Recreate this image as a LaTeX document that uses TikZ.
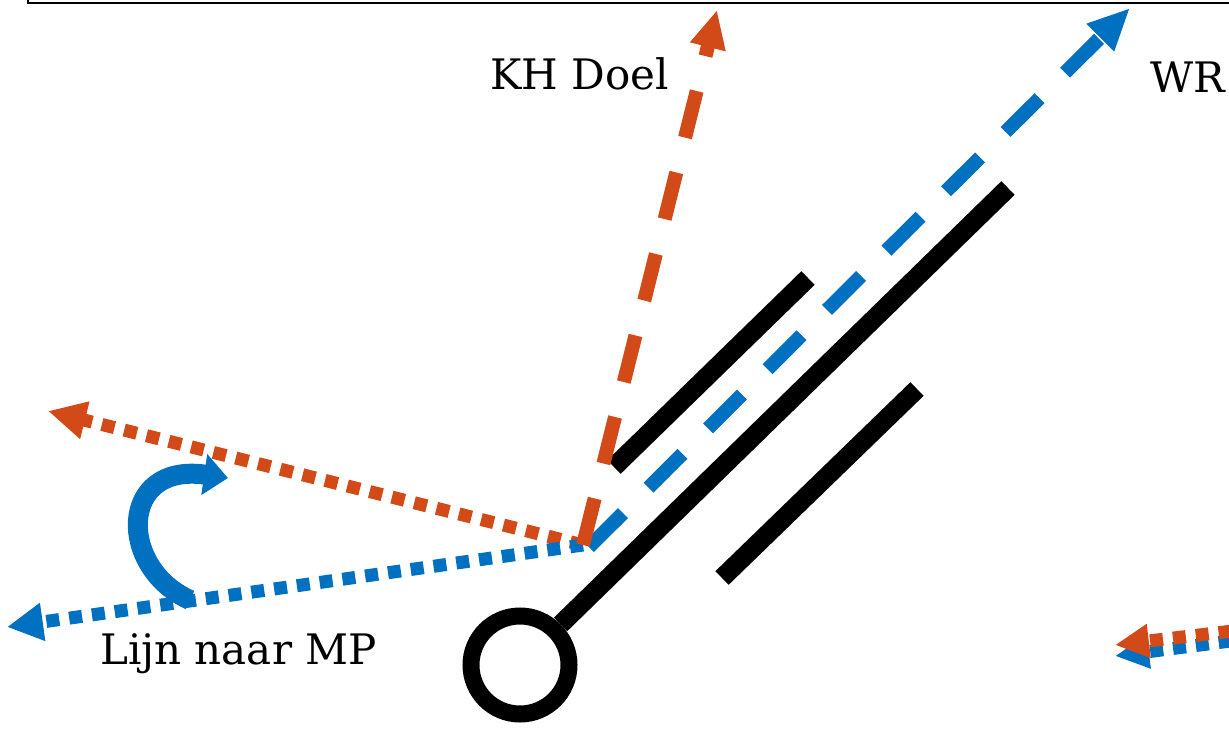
\documentclass[tikz,border=0pt]{standalone}
\usepackage{fontspec}
\setmainfont{DejaVu Serif}
\usetikzlibrary{arrows.meta}
\definecolor{myorange}{RGB}{210,74,24}
\definecolor{myblue}{RGB}{0,112,192}
\begin{document}
\begin{tikzpicture}[x=1pt,y=-1pt,
  dashedarrow/.style={line width=14pt, dash pattern=on 48pt off 36pt},
  dottedarrow/.style={line width=13pt, dash pattern=on 13pt off 10pt},
  bar/.style={line width=19pt, black},
  lbl/.style={font=\fontsize{42}{50}\selectfont, inner sep=0pt, anchor=base west}]
\useasboundingbox (0,0) rectangle (1229,731);
\clip (0,0) rectangle (1229,731);
% top frame
\draw[line width=2.5pt] (28,-20) -- (28,3) -- (1240,3);
% coordinates
\coordinate (o) at (583,545);
\coordinate (ob) at (589,547);
\coordinate (kh) at (717,10);
\coordinate (wr) at (1130,8);
\coordinate (ol) at (48,411);
\coordinate (bl) at (7,627);
% black bars
\coordinate (c) at (520,665);
\node[draw, circle, line width=17pt, minimum size=98pt, inner sep=0pt] (ring) at (c) {};
\draw[bar] (ring.45) -- (1008,188);
\draw[bar] (614,467) -- (808,278);
\draw[bar] (722,578) -- (917,389);
% arrows
\draw[dottedarrow, myorange, -{Triangle[length=38pt,width=36pt]}] (o) -- (ol);
\draw[dottedarrow, myblue, -{Triangle[length=36pt,width=36pt]}] (o) -- (bl);
\draw[dashedarrow, myblue, -{Triangle[length=42pt,width=36pt]}] (ob) -- (wr);
\draw[dashedarrow, myorange, -{Triangle[length=38pt,width=34pt]}] (o) -- (kh);
% bottom right off-screen arrows
\coordinate (brb0) at (1300,632);
\coordinate (brb) at (1115,656);
\coordinate (bro0) at (1300,623);
\coordinate (bro) at (1115,645);
\draw[dottedarrow, myblue, -{Triangle[length=34pt,width=32pt]}] (brb0) -- (brb);
\draw[dottedarrow, myorange, -{Triangle[length=34pt,width=32pt]}] (bro0) -- (bro);
% curved arrow
\coordinate (cs) at (190,600);
\coordinate (ce) at (228,478);
\draw[line width=20pt, myblue, -{Triangle[length=24pt,width=40pt]}] (cs) .. controls (118,568) and (118,462) .. (ce);
% labels
\node[lbl] (khl) at (490,89) {KH Doel};
\node[lbl] (wrl) at (1150,92) {WR};
\node[lbl] (mpl) at (100,664) {Lijn naar MP};
\end{tikzpicture}
\end{document}
